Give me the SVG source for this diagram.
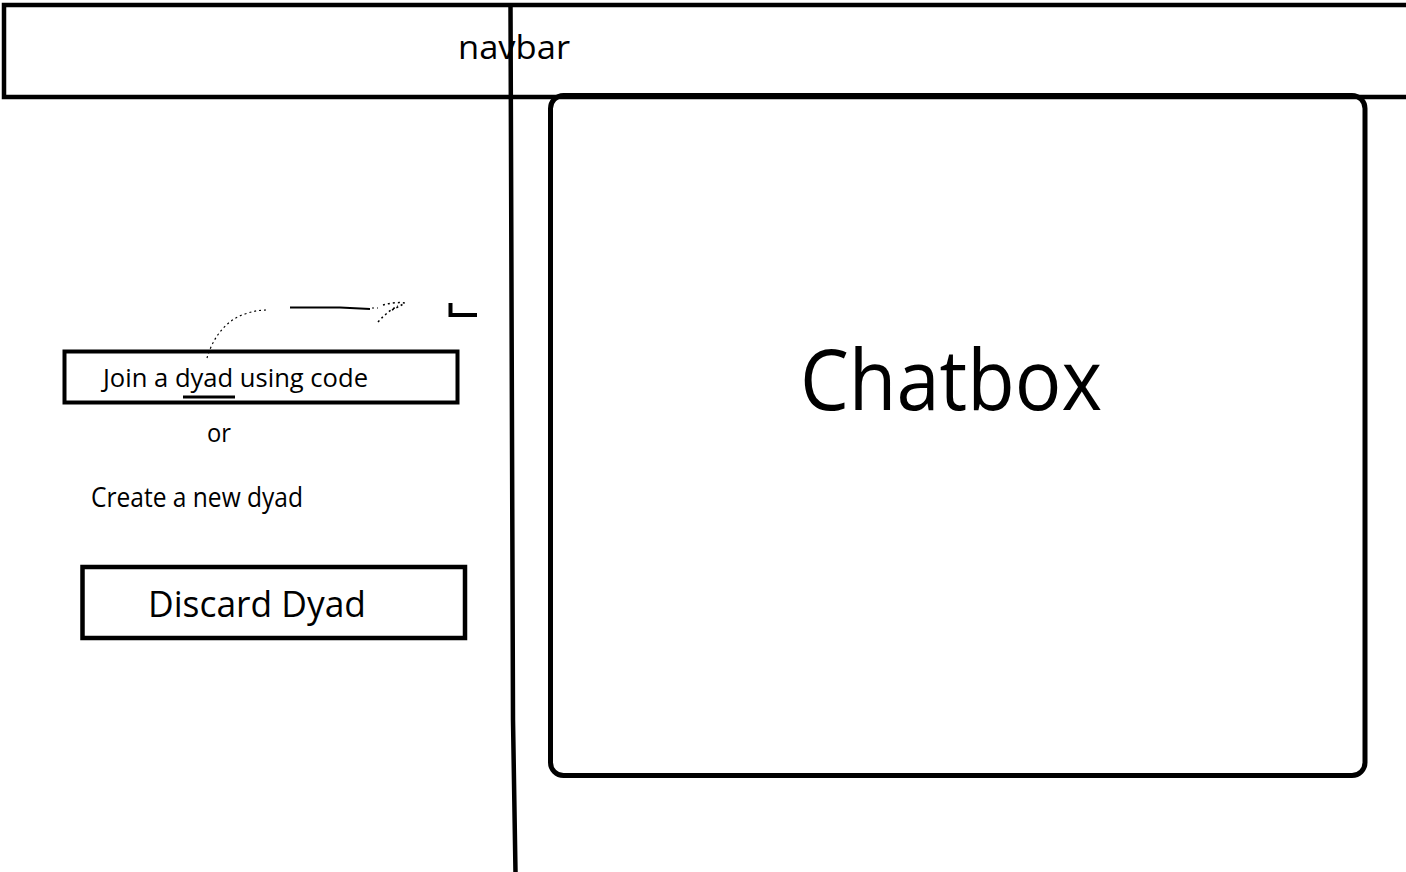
<svg xmlns="http://www.w3.org/2000/svg" width="1406" height="872" viewBox="0 0 1406 872">
<style>
.ln{fill:none;stroke:#000;stroke-linecap:butt;stroke-linejoin:miter}
.t{font-family:"Open Sans","Noto Sans","Liberation Sans",sans-serif;fill:#000}
</style>
<rect width="1406" height="872" fill="#fff"/>
<g id="navbar">
<path class="ln" stroke-width="4.5" d="M1410 5 H4 V97 H1410"/>
<text class="t" x="458" y="59" font-size="33" textLength="112" lengthAdjust="spacingAndGlyphs">navbar</text>
</g>
<g id="divider">
<polyline class="ln" stroke-width="4.5" points="510.5,5 513,720 515.5,872"/>
</g>
<g id="chatbox">
<rect class="ln" stroke-width="5" x="550.5" y="95.5" width="814.5" height="680" rx="13"/>
<text class="t" x="800" y="410" font-size="85" textLength="302" lengthAdjust="spacingAndGlyphs">Chatbox</text>
</g>
<g id="join">
<rect class="ln" stroke-width="4" x="64.5" y="351.5" width="393" height="51"/>
<text class="t" x="103" y="387" font-size="26" textLength="265" lengthAdjust="spacingAndGlyphs">Join a dyad using code</text>
<line class="ln" stroke-width="3" x1="183" y1="397" x2="235" y2="397"/>
</g>
<g id="or">
<text class="t" x="207" y="442" font-size="26" textLength="24" lengthAdjust="spacingAndGlyphs">or</text>
</g>
<g id="create">
<text class="t" x="91" y="507" font-size="27" textLength="212" lengthAdjust="spacingAndGlyphs">Create a new dyad</text>
</g>
<g id="discard">
<rect class="ln" stroke-width="4.5" x="82.5" y="567" width="382.5" height="71"/>
<text class="t" x="148" y="617" font-size="37" textLength="218" lengthAdjust="spacingAndGlyphs">Discard Dyad</text>
</g>
<g id="corner">
<path class="ln" stroke-width="4" d="M450.5 303 V315 H477"/>
</g>
<g id="connectors">
<path class="ln" stroke-width="1.2" stroke-dasharray="2 3" d="M207 358 C212 340 225 320 245 314 C253 311 260 310 268 310"/>
<path class="ln" stroke-width="2" d="M290 307.5 L340 307.5 L370 309"/>
<path class="ln" stroke-width="1.2" stroke-dasharray="2 3" d="M372 308 L378 308"/>
<path class="ln" stroke-width="1.5" stroke-dasharray="2 3" d="M378 322 C385 314 392 309 398 306 M383 305 C390 303 398 302 405 303 C400 306 396 308 392 310"/>
</g>
</svg>
